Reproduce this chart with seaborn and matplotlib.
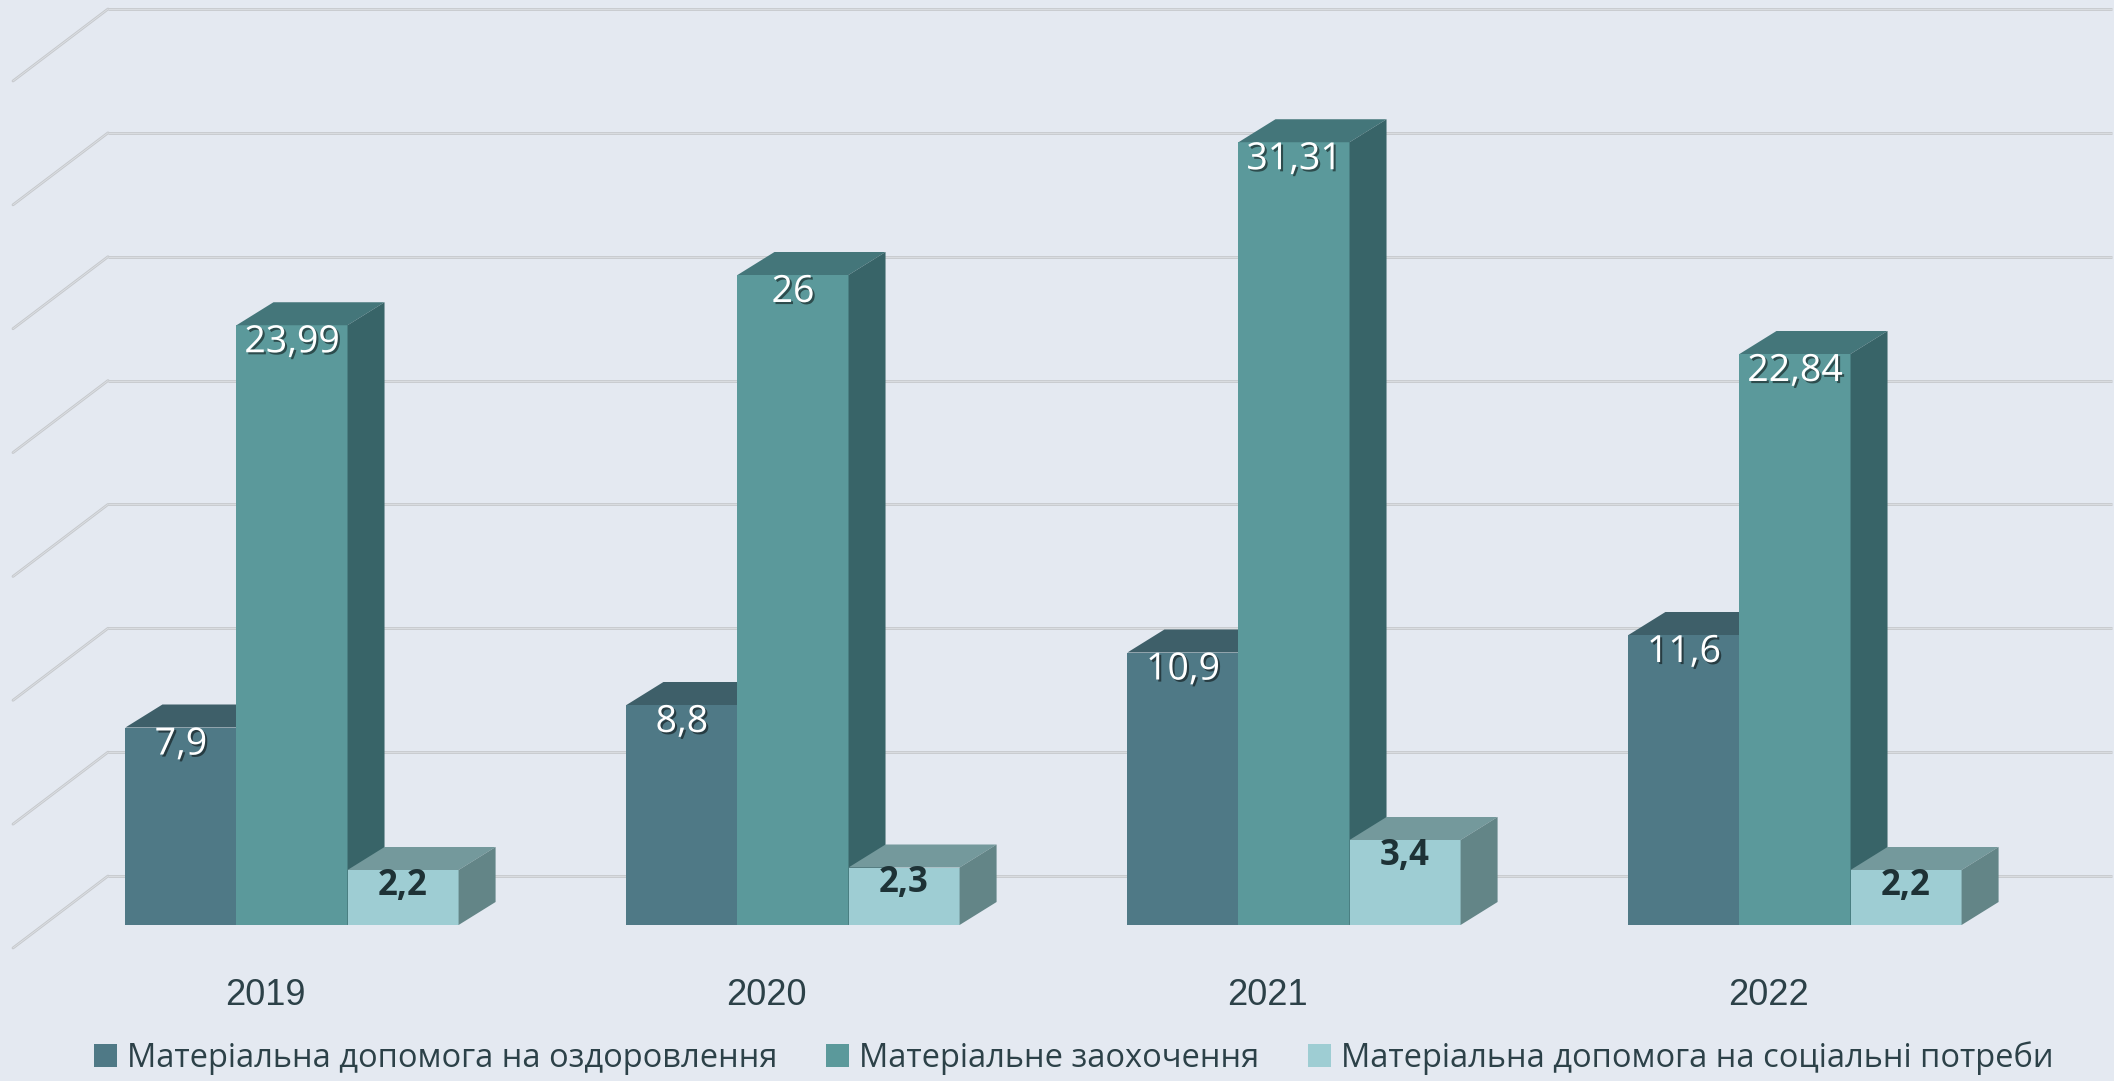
import numpy as np
import pandas as pd
import matplotlib
matplotlib.use("Agg")
import matplotlib.pyplot as plt
import matplotlib.patheffects as pe
from matplotlib.patches import Polygon, Patch
from matplotlib.transforms import ScaledTranslation
import seaborn as sns

years = ["2019", "2020", "2021", "2022"]
series = ["Матеріальна допомога на оздоровлення",
          "Матеріальне заохочення",
          "Матеріальна допомога на соціальні потреби"]
health_aid = [7.9, 8.8, 10.9, 11.6]
bonus = [23.99, 26, 31.31, 22.84]
social_aid = [2.2, 2.3, 3.4, 2.2]
grid_ticks = [0, 5, 10, 15, 20, 25, 30, 35]

front_colors = ["#4F7986", "#5B999B", "#9ECDD3"]
top_colors = ["#3E5F69", "#44767A", "#74999C"]
side_colors = ["#3A5E66", "#386468", "#638587"]
label_colors = ["white", "white", "#1E3236"]
bg = "#E4E9F1"

df = pd.DataFrame({
    "year": np.repeat(years, 3),
    "series": series * len(years),
    "value": np.column_stack([health_aid, bonus, social_aid]).ravel(),
})

sns.set_theme(style="white")
plt.rcParams["font.family"] = ["Open Sans", "DejaVu Sans"]

W, H = 2114, 1081
fig = plt.figure(figsize=(W / 100, H / 100), dpi=100)
fig.patch.set_facecolor(bg)

# back wall with gridlines (pixel x, value y)
base_px, top_px = 876, 9
px_per_unit_back = (base_px - top_px) / 35
ax_back = fig.add_axes([0, 0, 1, 1])
ax_back.set_facecolor(bg)
ax_back.set_xlim(0, W)
ax_back.set_ylim(-(H - base_px) / px_per_unit_back, base_px / px_per_unit_back)
ax_back.axis("off")
for v in grid_ticks:
    for c, lw in [("#C6C9CD", 2.0), ("#DDE0E4", 0.6)]:
        ax_back.plot([108, 2112], [v, v], color=c, lw=lw, solid_capstyle="butt")
        ax_back.plot([108, 13], [v, v - 72 / px_per_unit_back], color=c, lw=lw)

# front plane with bars
front_base = 925
px_per_unit = 25.0
ax = fig.add_axes([0, (H - front_base) / H, 1, front_base / H])
ax.patch.set_alpha(0)
sns.barplot(data=df, x="year", y="value", hue="series", hue_order=series,
            palette=front_colors, saturation=1, width=0.665, gap=0,
            linewidth=0, legend=False, ax=ax)
step = 501
ax.set_xlim(-292 / step, (W - 292) / step)
ax.set_ylim(0, front_base / px_per_unit)

dx = 37 / step
dy = 23 / px_per_unit
for i, cont in enumerate(ax.containers):
    vals = [health_aid, bonus, social_aid][i]
    for j, bar in enumerate(cont):
        k = j * 3 + i
        x0, w, h = bar.get_x(), bar.get_width(), bar.get_height()
        bar.set_zorder(10 + 2 * k)
        top = Polygon([(x0, h), (x0 + w, h), (x0 + w + dx, h + dy), (x0 + dx, h + dy)],
                      closed=True, facecolor=top_colors[i], edgecolor="none",
                      zorder=11 + 2 * k)
        side = Polygon([(x0 + w, 0), (x0 + w, h), (x0 + w + dx, h + dy), (x0 + w + dx, dy)],
                       closed=True, facecolor=side_colors[i], edgecolor="none",
                       zorder=11 + 2 * k)
        ax.add_patch(top)
        ax.add_patch(side)
        txt = f"{vals[j]:g}".replace(".", ",")
        if i < 2:
            effects = [pe.SimplePatchShadow(offset=(1.5, -1.5), shadow_rgbFace="black", alpha=0.5),
                       pe.Normal()]
            ax.text(x0 + w / 2, h - 0.68, txt, ha="center", va="center", fontsize=27,
                    color=label_colors[i], zorder=40, path_effects=effects)
        else:
            ax.text(x0 + w / 2, h - 0.62, txt, ha="center", va="center", fontsize=25,
                    fontweight="bold", color=label_colors[i], zorder=40)

ax.set_xlabel("")
ax.set_ylabel("")
ax.set_yticks([])
sns.despine(ax=ax, left=True, bottom=True)
ax.tick_params(axis="x", length=0, pad=38)
for lab in ax.get_xticklabels():
    lab.set_fontfamily("Liberation Sans")
    lab.set_fontsize(26)
    lab.set_color("#2C4148")
    lab.set_transform(lab.get_transform() + ScaledTranslation(-0.27, 0, fig.dpi_scale_trans))

handles = [Patch(facecolor=c, edgecolor="none") for c in front_colors]
fig.legend(handles, series, loc="center", bbox_to_anchor=(0.508, 0.021), ncol=3,
           frameon=False, fontsize=23.5, handlelength=0.7, handleheight=0.7,
           handletextpad=0.3, columnspacing=1.5, labelcolor="#2C4148")

fig.savefig("out.png", dpi=100, facecolor=bg)
